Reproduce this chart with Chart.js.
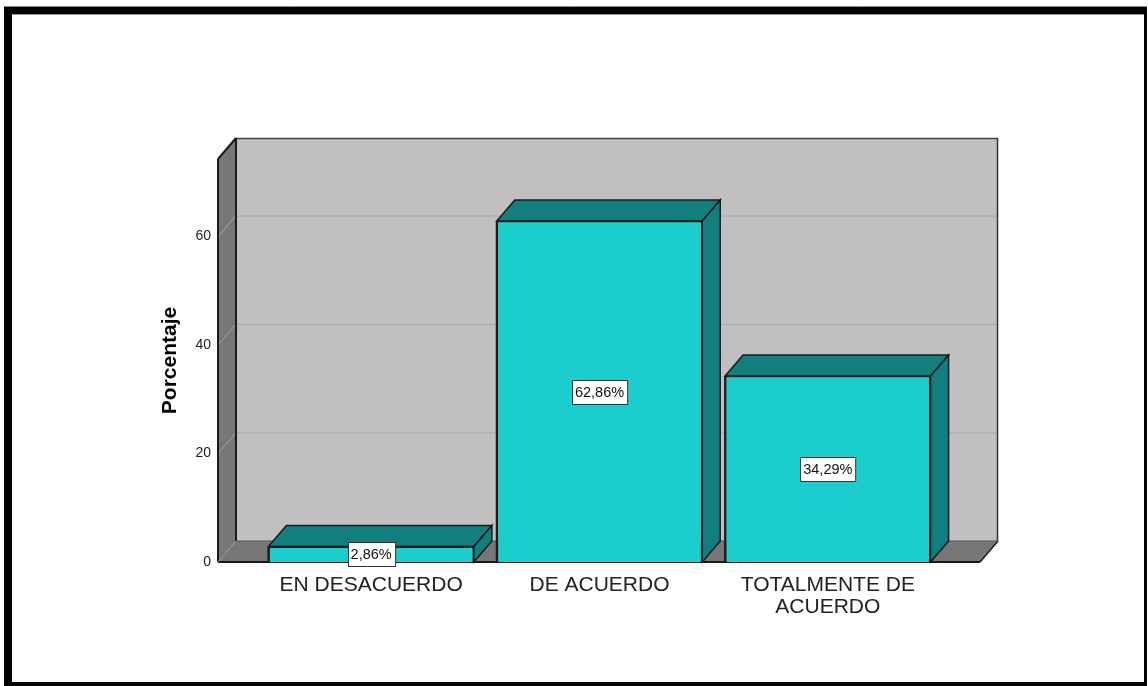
<!DOCTYPE html>
<html><head><meta charset="utf-8">
<script src="https://cdn.jsdelivr.net/npm/chart.js@4"></script>
<style>html,body{margin:0;padding:0;background:#fff}canvas{display:block}</style>
</head><body>
<canvas id="c" width="1148" height="686"></canvas>
<script>
const categories = ['EN DESACUERDO', 'DE ACUERDO', ['TOTALMENTE DE', 'ACUERDO']];
const percentages = [2.86, 62.86, 34.29];
const yTickValues = [0, 20, 40, 60];
const yMax = 74.3;

// depth of the fake 3d
const DX = 18, DY = 21;
const FRONT = '#1ccdcd', SIDE = '#117f7d', EDGE = '#1a1a1a';
const FONT = '"Liberation Sans", Arial, sans-serif';

function poly(ctx, pts, fill, stroke, lw) {
    ctx.beginPath();
    ctx.moveTo(pts[0][0], pts[0][1]);
    for (let i = 1; i < pts.length; i++) ctx.lineTo(pts[i][0], pts[i][1]);
    ctx.closePath();
    if (fill) { ctx.fillStyle = fill; ctx.fill(); }
    if (stroke) { ctx.strokeStyle = stroke; ctx.lineWidth = lw || 1; ctx.stroke(); }
}
function line(ctx, x1, y1, x2, y2, c, lw) {
    ctx.beginPath(); ctx.moveTo(x1, y1); ctx.lineTo(x2, y2);
    ctx.strokeStyle = c; ctx.lineWidth = lw || 1; ctx.stroke();
}

const box3d = {
    id: 'box3d',
    beforeDraw(chart) {
        const ctx = chart.ctx;
        ctx.save();
        ctx.fillStyle = '#fff'; ctx.fillRect(0, 0, 1148, 686);
        ctx.fillStyle = '#000'; ctx.fillRect(4, 7, 1143, 679);
        ctx.fillStyle = '#fff'; ctx.fillRect(12, 14, 1132, 668);
        line(ctx, 4, 6.5, 1147, 6.5, '#888');
        line(ctx, 12, 14.5, 1144, 14.5, '#999');
        ctx.restore();
    },
    beforeDatasetsDraw(chart) {
        const ctx = chart.ctx, a = chart.chartArea, y = chart.scales.y;
        const x0 = a.left - 39, x1 = a.right + 38, top = a.top, bot = a.bottom;
        ctx.save();
        // back wall
        poly(ctx, [[x0 + DX, top - DY], [x1 + DX, top - DY], [x1 + DX, bot - DY], [x0 + DX, bot - DY]], '#c0c0c0');
        // left wall + floor
        poly(ctx, [[x0, top], [x0 + DX, top - DY], [x0 + DX, bot - DY], [x0, bot]], '#777777');
        poly(ctx, [[x0, bot], [x0 + DX, bot - DY], [x1 + DX, bot - DY], [x1, bot]], '#777777');
        // grid
        y.ticks.forEach(t => {
            if (t.value === 0) return;
            const py = y.getPixelForValue(t.value);
            line(ctx, x0 + DX, py - DY + 0.5, x1 + DX, py - DY + 0.5, '#a8a8a8');
            line(ctx, x0, py, x0 + DX, py - DY, '#a4a4a4');
        });
        // edges
        line(ctx, x0 + DX, top - DY + 0.5, x1 + DX, top - DY + 0.5, '#444', 1.5);
        line(ctx, x1 + DX - 0.5, top - DY, x1 + DX - 0.5, bot - DY, '#333', 1.5);
        line(ctx, x0 + DX, top - DY, x0 + DX, bot - DY, EDGE, 2);
        line(ctx, x0, top, x0 + DX, top - DY, EDGE, 2);
        line(ctx, x0, top, x0, bot, EDGE, 2);
        line(ctx, x0, bot, x1, bot, EDGE, 2);
        line(ctx, x1, bot, x1 + DX, bot - DY, EDGE, 1.5);
        line(ctx, x0 + DX, bot - DY, x1 + DX, bot - DY, '#555', 1);
        line(ctx, x0, bot, x0 + DX, bot - DY, '#999', 1);
        ctx.restore();
    },
    afterDatasetsDraw(chart) {
        const ctx = chart.ctx;
        const meta = chart.getDatasetMeta(0);
        ctx.save();
        meta.data.forEach((bar, i) => {
            const p = bar.getProps(['x', 'y', 'base', 'width'], true);
            const l = p.x - p.width / 2, r = p.x + p.width / 2;
            poly(ctx, [[l, p.y], [l + DX, p.y - DY], [r + DX, p.y - DY], [r, p.y]], SIDE, EDGE, 1.5);
            poly(ctx, [[r, p.y], [r + DX, p.y - DY], [r + DX, p.base - DY], [r, p.base]], SIDE, EDGE, 1.5);
            line(ctx, l, p.y, l, p.base, EDGE, 2);
            const txt = percentages[i].toFixed(2).replace('.', ',') + '%';
            ctx.font = '14.5px ' + FONT;
            const w = ctx.measureText(txt).width + 6, h = 24;
            const cy = (p.y + p.base) / 2;
            const bx = Math.round(p.x - w / 2) + 0.5, by = Math.round(cy - h / 2) + 0.5;
            ctx.fillStyle = '#fff'; ctx.fillRect(bx, by, w, h);
            ctx.strokeStyle = '#333'; ctx.lineWidth = 1; ctx.strokeRect(bx, by, w, h);
            ctx.fillStyle = '#111'; ctx.textAlign = 'center'; ctx.textBaseline = 'middle';
            ctx.fillText(txt, p.x, cy + 1);
        });
        ctx.restore();
    }
};

new Chart(document.getElementById('c'), {
    type: 'bar',
    data: {
        labels: categories,
        datasets: [{
            data: percentages,
            backgroundColor: FRONT,
            borderColor: EDGE,
            borderWidth: 1.5,
            barPercentage: 0.9,
            categoryPercentage: 1
        }]
    },
    options: {
        responsive: false,
        animation: false,
        layout: {padding: {left: 0, top: 159, right: 206, bottom: 64}},
        plugins: {legend: {display: false}, tooltip: {enabled: false}},
        scales: {
            x: {
                grid: {display: false}, border: {display: false},
                ticks: {color: '#222', font: {family: FONT, size: 21, lineHeight: 1.05}, padding: 4, maxRotation: 0, autoSkip: false},
                afterFit: s => { s.height = 60; }
            },
            y: {
                min: 0, max: yMax,
                grid: {display: false}, border: {display: false},
                ticks: {color: '#222', font: {family: FONT, size: 14}, padding: 38, includeBounds: false},
                afterBuildTicks: s => { s.ticks = yTickValues.map(v => ({value: v})); },
                title: {display: true, text: 'Porcentaje', color: '#000', font: {family: FONT, size: 21, weight: 'bold'}, padding: {top: 158, bottom: 0}},
                afterFit: s => { s.width = 257; }
            }
        }
    },
    plugins: [box3d]
});
</script>
</body></html>
